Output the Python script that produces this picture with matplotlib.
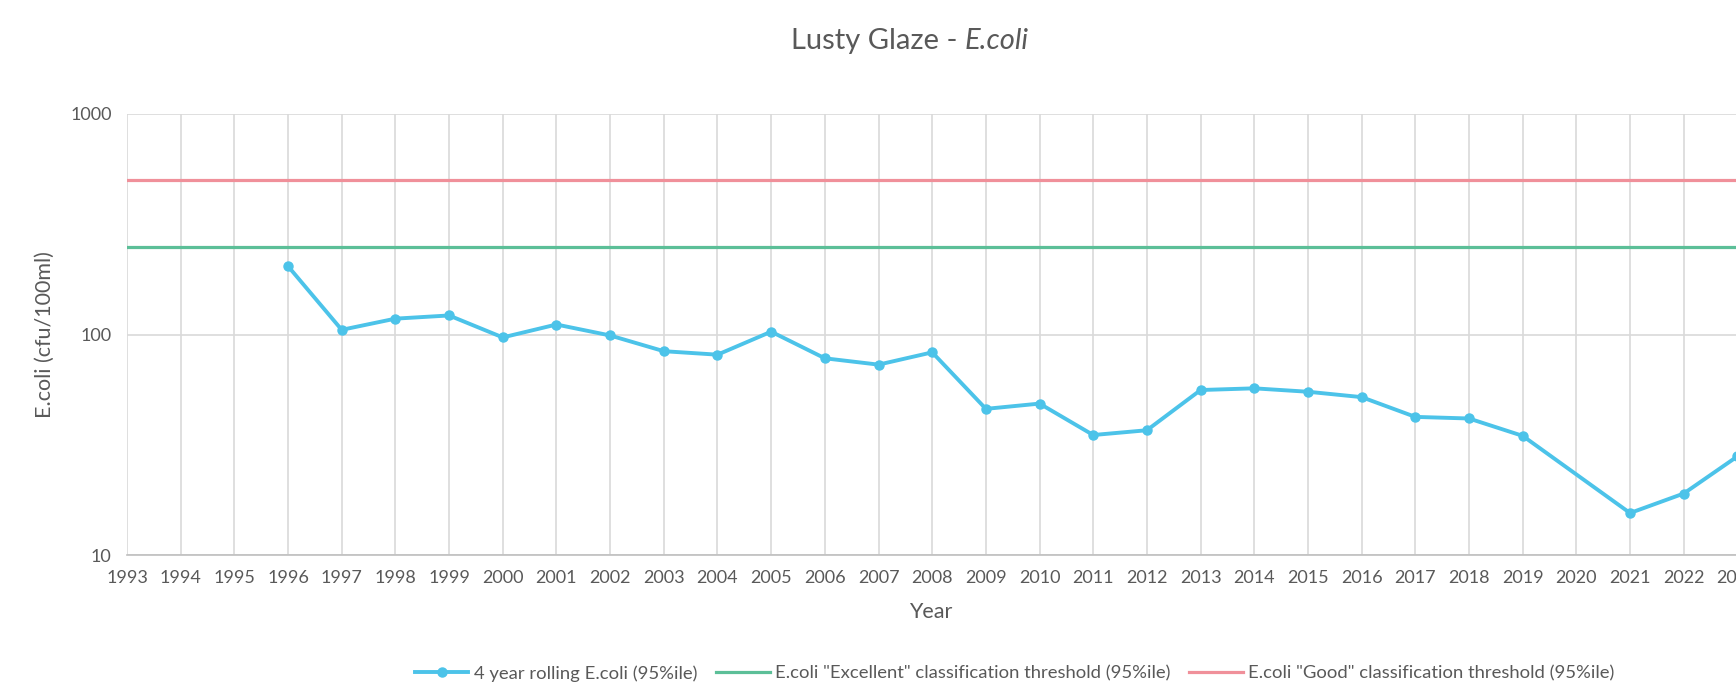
import matplotlib
matplotlib.use("Agg")
import matplotlib.pyplot as plt
from matplotlib.ticker import FixedLocator, NullLocator

years = [1996, 1997, 1998, 1999, 2000, 2001, 2002, 2003, 2004, 2005, 2006, 2007,
         2008, 2009, 2010, 2011, 2012, 2013, 2014, 2015, 2016, 2017, 2018, 2019,
         2021, 2022, 2023]
ecoli = [204, 105, 118, 122, 97, 111, 99, 84, 81, 103, 78, 73,
         83, 46, 48.6, 35, 36.8, 56, 57, 55, 52, 42.3, 41.6, 34.7,
         15.5, 19, 28]
excellent = 250
good = 500
tick_years = list(range(1993, 2026))

text_col = "#595959"
blue = "#4cc3e9"
green = "#5cbf98"
pink = "#f0909a"
grid_col = "#d9d9d9"

plt.rcParams["font.family"] = ["Lato", "DejaVu Sans"]

fig = plt.figure(figsize=(17.36, 6.92), dpi=100)
year_px = 53.68
x0, x1 = 1993, 2024
ax = fig.add_axes([127 / 1736, 137 / 692, (x1 - x0) * year_px / 1736, 441 / 692])

ax.axhline(good, color=pink, lw=2.3, zorder=2, label='E.coli "Good" classification threshold (95%ile)')
ax.axhline(excellent, color=green, lw=2.3, zorder=2, label='E.coli "Excellent" classification threshold (95%ile)')
ax.plot(years, ecoli, color=blue, lw=2.8, marker="o", markersize=6.5, zorder=3,
        label="4 year rolling E.coli (95%ile)")

ax.set_yscale("log")
ax.set_ylim(10, 1000)
ax.set_xlim(x0, x1)
ax.yaxis.set_major_locator(FixedLocator([10, 100, 1000]))
ax.yaxis.set_minor_locator(NullLocator())
ax.set_yticklabels(["10", "100", "1000"])
ax.xaxis.set_major_locator(FixedLocator(tick_years))
ax.set_xticklabels([str(y) for y in tick_years])

ax.grid(True, color=grid_col, lw=1.2, zorder=0)
ax.set_axisbelow(True)
for side in ["top", "right", "left"]:
    ax.spines[side].set_visible(False)
ax.spines["bottom"].set_color("#bfbfbf")
ax.spines["bottom"].set_linewidth(1.2)
ax.tick_params(length=0, colors=text_col, labelsize=13, pad=11)

# title: plain part + italic part, centred together
renderer = fig.canvas.get_renderer()
t1 = fig.text(0, 0.941, "Lusty Glaze - ", ha="left", va="center", fontsize=21, color=text_col)
t2 = fig.text(0, 0.941, "E.coli", ha="left", va="center", fontsize=21, color=text_col,
              style="italic")
w1 = t1.get_window_extent(renderer).width / fig.bbox.width
w2 = t2.get_window_extent(renderer).width / fig.bbox.width
start = 0.524 - (w1 + w2) / 2
t1.set_x(start)
t2.set_x(start + w1)

fig.text(0.536, 0.115, "Year", ha="center", va="center", fontsize=15.5, color=text_col)
fig.text(0.026, 0.517, "E.coli (cfu/100ml)", ha="center", va="center", rotation=90,
         fontsize=15.5, color=text_col)

handles, labels = ax.get_legend_handles_labels()
order = [2, 1, 0]
fig.legend([handles[i] for i in order], [labels[i] for i in order],
           loc="center", bbox_to_anchor=(0.5845, 0.027), ncol=3, frameon=False,
           fontsize=13.3, labelcolor=text_col, handlelength=2.9, handletextpad=0.3,
           columnspacing=1.0)

fig.savefig("out.png", dpi=100)
